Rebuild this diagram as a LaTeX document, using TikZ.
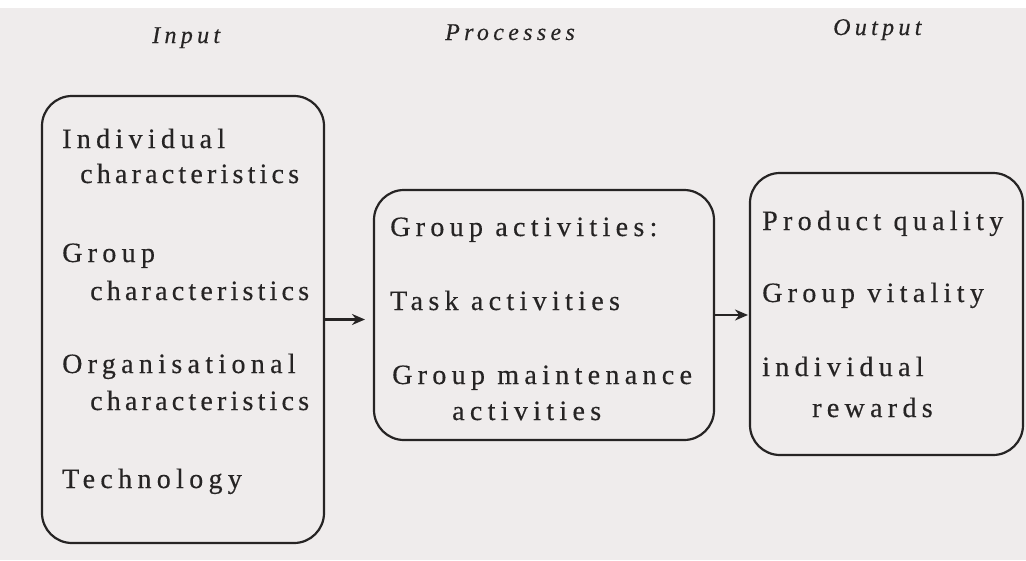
\documentclass[tikz,border=0pt]{standalone}
\usepackage{fontspec}
\usetikzlibrary{arrows.meta}
\newfontfamily\boxfont[LetterSpace=19,FakeBold=0.4]{Liberation Serif}
\newfontfamily\longfont[LetterSpace=15,FakeBold=0.4]{Liberation Serif}
\newfontfamily\headfont[LetterSpace=18,FakeBold=0.3]{Liberation Serif Italic}
\definecolor{paper}{RGB}{239,236,236}
\definecolor{ink}{RGB}{38,36,36}
\begin{document}
\begin{tikzpicture}[x=1pt,y=-1pt,
  box/.style={draw=ink,line width=2.2pt,rounded corners=30pt,inner sep=0pt,outer sep=0pt},
  item/.style={anchor=base west,inner sep=0pt,text=ink,font=\boxfont\fontsize{28}{32}\selectfont},
  longitem/.style={item,font=\longfont\fontsize{28}{32}\selectfont},
  head/.style={anchor=base west,inner sep=0pt,text=ink,font=\headfont\fontsize{24}{28}\selectfont},
  arr/.style={draw=ink,line width=2.6pt,-{Stealth[length=13pt,width=11pt]}}]
  % sheet
  \useasboundingbox (0,0) rectangle (1026,560);
  \fill[white] (0,0) rectangle (1026,8);
  \fill[paper] (0,8) rectangle (1026,560);

  % column headings
  \node[head] (hin)   at (152,43) {Input};
  \node[head] (hproc) at (445,40) {Processes};
  \node[head] (hout)  at (833,35) {Output};

  % the three stages
  \node[box,minimum width=282pt,minimum height=447pt] (inbox)   at (183,319.5) {};
  \node[box,minimum width=340pt,minimum height=250pt] (procbox) at (544,315) {};
  \node[box,minimum width=273pt,minimum height=282pt] (outbox)  at (886.5,314) {};

  % input items
  \node[item]     (i1a) at (62,148) {Individual};
  \node[longitem] (i1b) at (80,183) {characteristics};
  \node[item]     (i2a) at (62,262) {Group};
  \node[longitem] (i2b) at (90,300) {characteristics};
  \node[item]     (i3a) at (62,373) {Organisational};
  \node[longitem] (i3b) at (90,410) {characteristics};
  \node[item]     (i4)  at (62,488) {Technology};

  % process items
  \node[item] (p1)  at (390,236) {Group activities:};
  \node[item] (p2)  at (390,310) {Task activities};
  \node[item] (p3a) at (392,384) {Group maintenance};
  \node[item] (p3b) at (452,420) {activities};

  % output items
  \node[item] (o1)  at (762,230) {Product quality};
  \node[item] (o2)  at (762,302) {Group vitality};
  \node[item] (o3a) at (762,376) {individual};
  \node[item] (o3b) at (812,417) {rewards};

  % flow between stages
  \draw[arr,shorten >=9pt] (inbox.east) -- (inbox.east -| procbox.west);
  \draw[arr,shorten >=2pt] (procbox.east) -- (procbox.east -| outbox.west);
\end{tikzpicture}
\end{document}
